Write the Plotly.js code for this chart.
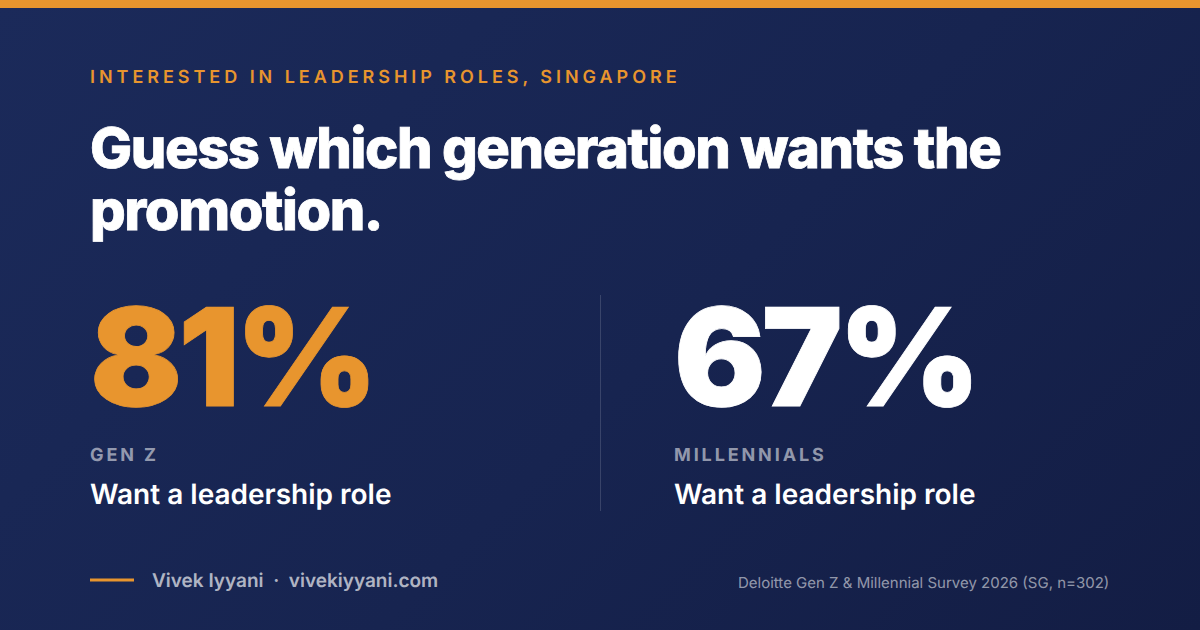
<!DOCTYPE html>
<html>
<head>
<meta charset="utf-8">
<script src="https://cdn.plot.ly/plotly-3.0.1.min.js"></script>
<style>
  html, body { margin: 0; padding: 0; width: 1200px; height: 630px; overflow: hidden; }
  body { background: linear-gradient(135deg, #1b2a5a 0%, #172450 55%, #131d44 100%); }
  #chart { width: 1200px; height: 630px; }
  .annotation text { text-rendering: geometricPrecision; }
</style>
</head>
<body>
<div id="chart"></div>
<script>
const FONT = 'Inter, sans-serif';
const ORANGE = '#e8952e';

const generations = ['GEN Z', 'MILLENNIALS'];
const shares = [81, 67];
const captions = ['Want a leadership role', 'Want a leadership role'];
const shareColors = [ORANGE, '#ffffff'];
const columnX = [90, 674];

const kicker = 'INTERESTED IN LEADERSHIP ROLES, SINGAPORE';
const headlineLines = ['Guess which generation wants the', 'promotion.'];
const byline = 'Vivek Iyyani  ·  vivekiyyani.com';
const source = 'Deloitte Gen Z &amp; Millennial Survey 2026 (SG, n=302)';

function label(text, x, y, size, weight, color, spacing, extra) {
  return Object.assign({
    text, x, y, xref: 'x', yref: 'y', xanchor: 'left', yanchor: 'middle',
    showarrow: false, align: 'left', borderpad: 0, borderwidth: 0,
    font: { family: FONT, size, weight, color },
    name: spacing,
  }, extra);
}

const annotations = [
  label(kicker, 90, 76.5, 18, 600, ORANGE, '3.96px'),
  label(headlineLines[0], 90, 148, 56, 800, '#ffffff', '-1.4px'),
  label(headlineLines[1], 90, 210, 56, 800, '#ffffff', '-1.4px'),
  label(byline, 152, 580, 19, 600, 'rgba(255,255,255,0.68)', '0px'),
  label(source, 1109, 582, 15, 400, 'rgba(255,255,255,0.55)', '0px', { xanchor: 'right' }),
];
generations.forEach((g, i) => {
  annotations.push(label(shares[i] + '%', columnX[i], 356.5, 136, 900, shareColors[i], '-4.08px'));
  annotations.push(label(g, columnX[i], 454, 18, 700, 'rgba(255,255,255,0.55)', '2.88px'));
  annotations.push(label(captions[i], columnX[i], 493.5, 28, 600, '#ffffff', '0px'));
});

const shapes = [
  { type: 'rect', xref: 'x', yref: 'y', x0: 0, x1: 1200, y0: 0, y1: 8, fillcolor: ORANGE, line: { width: 0 } },
  { type: 'line', xref: 'x', yref: 'y', x0: 600.5, x1: 600.5, y0: 295, y1: 511, line: { color: 'rgba(255,255,255,0.15)', width: 1 } },
  { type: 'line', xref: 'x', yref: 'y', x0: 90, x1: 134, y0: 580, y1: 580, line: { color: ORANGE, width: 3 } },
];

const hiddenAxis = { visible: false, fixedrange: true };
const layout = {
  width: 1200,
  height: 630,
  margin: { l: 0, r: 0, t: 0, b: 0 },
  paper_bgcolor: 'rgba(0,0,0,0)',
  plot_bgcolor: 'rgba(0,0,0,0)',
  xaxis: { ...hiddenAxis, range: [0, 1200] },
  yaxis: { ...hiddenAxis, range: [630, 0] },
  showlegend: false,
  annotations,
  shapes,
};

Plotly.newPlot('chart', [{ x: [], y: [], type: 'scatter' }], layout, { displayModeBar: false, staticPlot: true }).then(() => {
  // plotly has no letter spacing option, so set it on the drawn text
  document.querySelectorAll('.annotation').forEach((node) => {
    const i = +node.getAttribute('data-index');
    const text = node.querySelector('text');
    text.style.letterSpacing = annotations[i].name;
    // headline and big numbers render a touch heavier in the reference
    if (annotations[i].font.size > 50) {
      text.style.stroke = annotations[i].font.color;
      text.style.strokeWidth = '0.8px';
    }
  });
});
</script>
</body>
</html>
